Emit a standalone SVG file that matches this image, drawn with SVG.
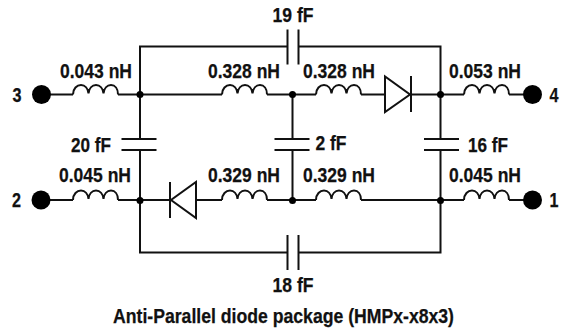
<svg xmlns="http://www.w3.org/2000/svg" width="563" height="331" viewBox="0 0 563 331">
<style>
.w{fill:none;stroke:#111;stroke-width:2}
.l{fill:none;stroke:#111;stroke-width:2}
.d{fill:#000}
.t{font-family:"Liberation Sans",Arial,sans-serif;font-weight:bold;font-size:20px;fill:#111;stroke:#111;stroke-width:.25px;text-anchor:middle}
</style>
<defs>
<path id="ind" class="l" d="M0 0C0-6 4-9.500 8-9.500C12-9.500 15-6 15.500-1C16-6 19-9.500 23-9.500C27-9.500 30-6 30.500-1C31-6 34-9.500 38-9.500C42-9.500 45-6 45 0"/>
<g id="hcap"><path class="w" d="M-17.500 -5.500H17.500M-17.500 5.500H17.500"/></g>
<g id="vcap"><path class="w" d="M-5.500 -17.500V17.500M5.500 -17.500V17.500"/></g>
</defs>
<g id="connectors">
<path class="w" d="M41 94.500H73M118 94.500H222M267 94.500H316M361 94.500H385M411 94.500H464M509 94.500H533"/>
<path class="w" d="M41 200H73M118 200H170M196 200H222M267 200H316M361 200H464M509 200H533"/>
<path class="w" d="M288 46.500H140V139M298.500 46.500H440.500V139M140 150V252.500H288M298.500 252.500H440.500V150M292.500 94.500V139M292.500 150V200"/>
</g>
<g id="L1"><use href="#ind" x="73" y="94.500"/><text class="t" x="96" y="78" textLength="72" lengthAdjust="spacingAndGlyphs">0.043 nH</text></g>
<g id="L2"><use href="#ind" x="222" y="94.500"/><text class="t" x="244" y="78" textLength="72" lengthAdjust="spacingAndGlyphs">0.328 nH</text></g>
<g id="L3"><use href="#ind" x="316" y="94.500"/><text class="t" x="339" y="78" textLength="72" lengthAdjust="spacingAndGlyphs">0.328 nH</text></g>
<g id="L4"><use href="#ind" x="464" y="94.500"/><text class="t" x="485" y="78" textLength="72" lengthAdjust="spacingAndGlyphs">0.053 nH</text></g>
<g id="L5"><use href="#ind" x="73" y="200"/><text class="t" x="95" y="182" textLength="72" lengthAdjust="spacingAndGlyphs">0.045 nH</text></g>
<g id="L6"><use href="#ind" x="222" y="200"/><text class="t" x="244" y="182" textLength="72" lengthAdjust="spacingAndGlyphs">0.329 nH</text></g>
<g id="L7"><use href="#ind" x="316" y="200"/><text class="t" x="339" y="182" textLength="72" lengthAdjust="spacingAndGlyphs">0.329 nH</text></g>
<g id="L8"><use href="#ind" x="464" y="200"/><text class="t" x="485" y="182" textLength="72" lengthAdjust="spacingAndGlyphs">0.045 nH</text></g>
<g id="D1"><path class="w" d="M385 76.500V112L410 94.500ZM411 76V112"/></g>
<g id="D2"><path class="w" d="M196 182V218L171 200ZM170 182V218"/></g>
<g id="C19"><use href="#vcap" x="293" y="47"/><text class="t" x="293" y="22" textLength="41" lengthAdjust="spacingAndGlyphs">19 fF</text></g>
<g id="C18"><use href="#vcap" x="293" y="252.500"/><text class="t" x="293" y="292" textLength="41" lengthAdjust="spacingAndGlyphs">18 fF</text></g>
<g id="C20"><use href="#hcap" x="139" y="144.500"/><text class="t" x="91" y="152" textLength="40" lengthAdjust="spacingAndGlyphs">20 fF</text></g>
<g id="C2"><use href="#hcap" x="292" y="144.500"/><text class="t" x="331" y="150" textLength="31" lengthAdjust="spacingAndGlyphs">2 fF</text></g>
<g id="C16"><use href="#hcap" x="441.500" y="144.500"/><text class="t" x="488" y="152" textLength="40" lengthAdjust="spacingAndGlyphs">16 fF</text></g>
<g id="J"><circle class="d" cx="140" cy="94.500" r="3.500"/><circle class="d" cx="292.500" cy="94.500" r="3.500"/><circle class="d" cx="440.500" cy="94.500" r="3.500"/><circle class="d" cx="140" cy="200.500" r="3.500"/><circle class="d" cx="292.500" cy="200.500" r="3.500"/><circle class="d" cx="440.500" cy="200.500" r="3.500"/></g>
<g id="P3"><circle class="d" cx="41.500" cy="94.500" r="9.500"/><text class="t" x="17" y="102" textLength="9" lengthAdjust="spacingAndGlyphs">3</text></g>
<g id="P2"><circle class="d" cx="41" cy="200" r="9.500"/><text class="t" x="16.500" y="207" textLength="9" lengthAdjust="spacingAndGlyphs">2</text></g>
<g id="P4"><circle class="d" cx="532.500" cy="94.500" r="9.500"/><text class="t" x="554" y="102" textLength="9" lengthAdjust="spacingAndGlyphs">4</text></g>
<g id="P1"><circle class="d" cx="532.500" cy="200" r="9.500"/><text class="t" x="554" y="207" textLength="9" lengthAdjust="spacingAndGlyphs">1</text></g>
<text class="t" x="283.500" y="323" textLength="341" lengthAdjust="spacingAndGlyphs">Anti-Parallel diode package (HMPx-x8x3)</text>
</svg>
